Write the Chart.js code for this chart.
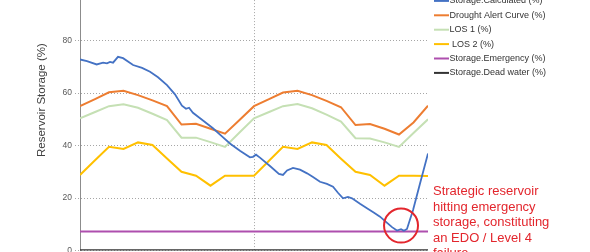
<!DOCTYPE html>
<html>
<head>
<meta charset="utf-8">
<script src="https://cdn.jsdelivr.net/npm/chart.js@4.4.1/dist/chart.umd.min.js"></script>
<style>
    html, body { margin: 0; padding: 0; background: #fff; overflow: hidden; }
    .chart-box { position: absolute; left: 0; top: -20px; width: 590px; height: 300px; }
</style>
</head>
<body>
<div class="chart-box"><canvas id="storageChart"></canvas></div>
<script>
// months from start of run (two years)
var months = [0, 1, 2, 3, 4, 5, 6, 7, 8, 9, 10, 11, 12, 13, 14, 15, 16, 17, 18, 19, 20, 21, 22, 23, 24];

// calculated storage is read at uneven points along the curve
var calcMonths = [0, 0.48, 1.15, 1.59, 1.86, 2.07, 2.28, 2.62, 2.97, 3.66, 4.28, 4.83, 5.38, 6.0, 6.55,
    7.03, 7.31, 7.52, 7.79, 8.28, 9.17, 9.79, 10.34, 11.03, 11.72, 11.93, 12.14, 12.41, 13.1, 13.72,
    14.0, 14.28, 14.69, 15.17, 15.66, 16.07, 16.55, 17.03, 17.45, 17.79, 18.14, 18.48, 18.76, 19.31,
    19.79, 20.28, 20.69, 21.1, 21.52, 21.86, 22.14, 22.34, 22.55, 22.97, 23.45, 24.0];
var calcValues = [72.8, 72.2, 70.9, 71.6, 71.3, 71.9, 71.6, 73.8, 73.3, 70.7, 69.6, 68.1, 66.0, 63.0, 59.5,
    55.2, 54.0, 54.4, 52.5, 50.4, 46.6, 43.5, 40.8, 38.0, 35.5, 35.7, 36.5, 35.4, 32.2, 29.2,
    28.8, 30.5, 31.5, 30.8, 29.4, 28.0, 26.2, 25.4, 24.3, 22.0, 19.9, 20.4, 19.9, 17.8,
    16.1, 14.4, 12.9, 10.9, 8.9, 7.6, 8.1, 7.5, 8.2, 15.4, 25.5, 37.0];

var droughtAlert = [55.0, 57.6, 60.3, 60.9, 59.2, 57.2, 55.0, 48.0, 48.3, 46.4, 44.5, 49.7, 55.0,
    57.6, 60.2, 60.9, 59.2, 57.0, 54.6, 47.8, 48.2, 46.4, 44.2, 48.8, 55.2];
var los1 = [50.4, 52.7, 55.0, 55.7, 54.4, 52.1, 49.7, 43.0, 43.0, 41.3, 39.5, 45.0, 50.4,
    52.7, 55.0, 55.8, 54.2, 51.8, 49.1, 42.8, 42.7, 41.2, 39.5, 44.8, 50.0];
var los2 = [28.8, 34.2, 39.5, 38.7, 41.2, 40.2, 35.1, 30.0, 28.5, 24.7, 28.5, 28.5, 28.5,
    34.0, 39.5, 38.7, 41.2, 40.2, 35.0, 30.0, 28.8, 24.7, 28.5, 28.5, 28.4];
var emergencyLevel = 7.2;
var deadWaterLevel = 0;

var yTicks = [0, 20, 40, 60, 80, 100];
var xGridMonths = [12];
var seriesNames = ['Storage.Calculated (%)', 'Drought Alert Curve (%)', 'LOS 1 (%)', ' LOS 2 (%)',
    'Storage.Emergency (%)', 'Storage.Dead water (%)'];
var yTitle = 'Reservoir Storage (%)';
var noteLines = ['Strategic reservoir', 'hitting emergency', 'storage, constituting', 'an EDO / Level 4', 'failure'];
var lowPoint = { x: 22.14, y: 9.5 };

(function () {
    var FONT = '"Liberation Sans", Arial, sans-serif';
    var RED = '#e3262d';

    function pairs(xs, ys) {
        var out = [];
        for (var i = 0; i < xs.length; i++) {
            out.push({ x: xs[i], y: ys[i] });
        }
        return out;
    }

    function flat(level) {
        return [{ x: months[0], y: level }, { x: months[months.length - 1], y: level }];
    }

    function lineSet(label, data, color, width) {
        return {
            label: label,
            data: data,
            borderColor: color,
            backgroundColor: color,
            borderWidth: width,
            pointRadius: 0,
            tension: 0,
            fill: false
        };
    }

    // legend, axis title, note and circle drawn on top of the chart
    var extrasPlugin = {
        id: 'extras',
        afterDraw: function (chart) {
            var ctx = chart.ctx;
            var area = chart.chartArea;
            var xs = chart.scales.x;
            var ys = chart.scales.y;

            ctx.save();
            ctx.translate(42, area.top + 112);
            ctx.rotate(-Math.PI / 2);
            ctx.font = '11.5px ' + FONT;
            ctx.fillStyle = '#404040';
            ctx.textAlign = 'center';
            ctx.textBaseline = 'middle';
            ctx.fillText(yTitle, 0, 0);
            ctx.restore();

            ctx.save();
            ctx.font = '9px ' + FONT;
            ctx.textBaseline = 'middle';
            ctx.textAlign = 'left';
            var sets = chart.data.datasets;
            for (var i = 0; i < sets.length; i++) {
                var y = area.top + 12.8 + 14.4 * i;
                ctx.strokeStyle = sets[i].borderColor;
                ctx.lineWidth = 2;
                ctx.beginPath();
                ctx.moveTo(area.right + 6, y);
                ctx.lineTo(area.right + 21, y);
                ctx.stroke();
                ctx.fillStyle = '#333';
                ctx.fillText(sets[i].label, area.right + 21.5, y);
            }
            ctx.restore();

            ctx.save();
            ctx.strokeStyle = RED;
            ctx.lineWidth = 2;
            ctx.beginPath();
            ctx.arc(xs.getPixelForValue(lowPoint.x), ys.getPixelForValue(lowPoint.y), 17, 0, Math.PI * 2);
            ctx.stroke();

            ctx.font = '13px ' + FONT;
            ctx.fillStyle = RED;
            ctx.textBaseline = 'alphabetic';
            for (var j = 0; j < noteLines.length; j++) {
                ctx.fillText(noteLines[j], area.right + 5, area.top + 207 + 15.5 * j);
            }
            ctx.restore();
        }
    };

    var ctx = document.getElementById('storageChart').getContext('2d');
    new Chart(ctx, {
        type: 'line',
        data: {
            datasets: [
                lineSet(seriesNames[0], pairs(calcMonths, calcValues), '#4472c4', 1.8),
                lineSet(seriesNames[1], pairs(months, droughtAlert), '#ed7d31', 2),
                lineSet(seriesNames[2], pairs(months, los1), '#c5e0b4', 2),
                lineSet(seriesNames[3], pairs(months, los2), '#ffc000', 2),
                lineSet(seriesNames[4], flat(emergencyLevel), '#ae4fae', 2),
                lineSet(seriesNames[5], flat(deadWaterLevel), '#333333', 2.5)
            ]
        },
        options: {
            responsive: true,
            maintainAspectRatio: false,
            animation: false,
            layout: { padding: { top: 8, right: 162, left: 0, bottom: 0 } },
            plugins: {
                legend: { display: false },
                tooltip: { enabled: false }
            },
            scales: {
                x: {
                    type: 'linear',
                    min: months[0],
                    max: months[months.length - 1],
                    afterBuildTicks: function (scale) {
                        scale.ticks = xGridMonths.map(function (v) { return { value: v }; });
                    },
                    afterFit: function (scale) { scale.height = 29.5; },
                    ticks: { display: false },
                    grid: { color: '#a6a6a6', lineWidth: 1, drawTicks: false },
                    border: { display: false, dash: [1, 2] }
                },
                y: {
                    min: 0,
                    max: 100,
                    afterBuildTicks: function (scale) {
                        scale.ticks = yTicks.map(function (v) { return { value: v }; });
                    },
                    afterFit: function (scale) { scale.width = 80; },
                    ticks: {
                        color: '#595959',
                        font: { family: FONT, size: 8.5 },
                        padding: 3
                    },
                    grid: {
                        color: '#a6a6a6',
                        lineWidth: 1,
                        tickLength: 5,
                        tickBorderDash: [1, 2]
                    },
                    border: { display: true, color: '#8c8c8c', width: 1, dash: [1, 2] }
                }
            }
        },
        plugins: [extrasPlugin]
    });
})();
</script>
</body>
</html>
